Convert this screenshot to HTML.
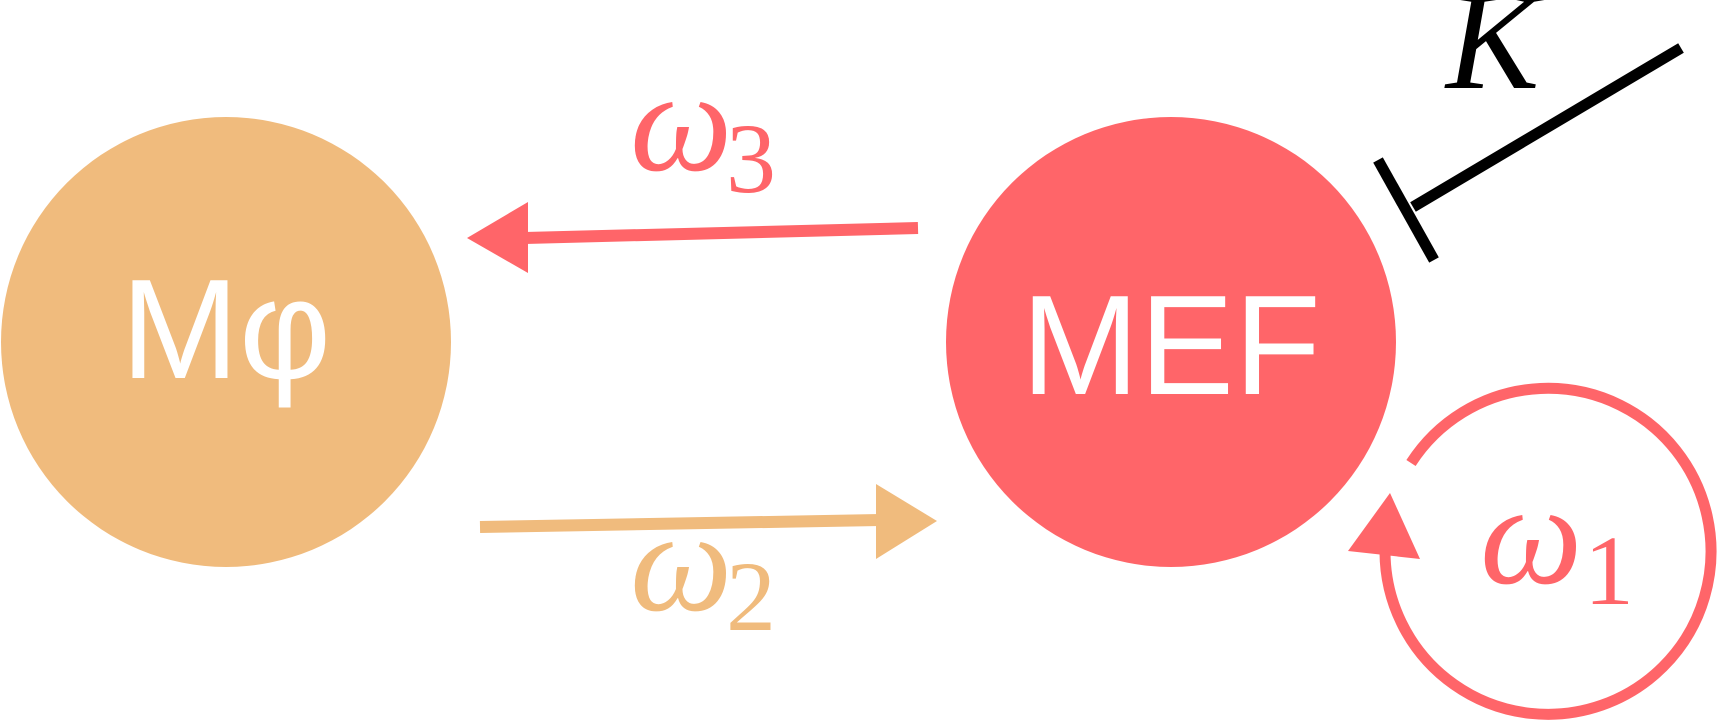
<!DOCTYPE html>
<html><head><meta charset="utf-8"><style>html,body{margin:0;padding:0;background:#fff}svg{display:block}</style></head>
<body>
<svg width="1717" height="721" viewBox="0 0 1717 721" xmlns="http://www.w3.org/2000/svg">
<circle cx="226" cy="342" r="225" fill="#F0BB7D"/>
<circle cx="1171" cy="342" r="225" fill="#FF6569"/>
<text x="226" y="378" font-family="Liberation Sans, DejaVu Sans, sans-serif" font-size="142" fill="#fff" text-anchor="middle">Mφ</text>
<text x="1171" y="394" font-family="Liberation Sans, sans-serif" font-size="142" fill="#fff" text-anchor="middle">MEF</text>
<!-- red arrow -->
<line x1="918" y1="228" x2="525" y2="238" stroke="#FF6569" stroke-width="12"/>
<polygon points="467,238 528,202 528,273" fill="#FF6569"/>
<!-- orange arrow -->
<line x1="480" y1="527" x2="880" y2="520" stroke="#F0BB7D" stroke-width="12"/>
<polygon points="937,521 876,484 876,559" fill="#F0BB7D"/>
<!-- labels -->
<text x="630" y="170" font-family="Liberation Serif, serif" font-style="italic" font-size="145" fill="#FF6569">ω</text>
<text x="726" y="192" font-family="Liberation Serif, serif" font-size="100" fill="#FF6569">3</text>
<text x="630" y="610" font-family="Liberation Serif, serif" font-style="italic" font-size="145" fill="#F0BB7D">ω</text>
<text x="726" y="630" font-family="Liberation Serif, serif" font-size="100" fill="#F0BB7D">2</text>
<text x="1480" y="583" font-family="Liberation Serif, serif" font-style="italic" font-size="145" fill="#FF6569">ω</text>
<text x="1584" y="604" font-family="Liberation Serif, serif" font-size="100" fill="#FF6569">1</text>
<text x="1446" y="88" font-family="Liberation Serif, serif" font-style="italic" font-size="140" fill="#000">K</text>
<!-- inhibition -->
<line x1="1681" y1="48" x2="1413" y2="207" stroke="#000" stroke-width="11"/>
<line x1="1378" y1="160" x2="1434" y2="260" stroke="#000" stroke-width="11"/>
<!-- self loop -->
<path d="M 1411 463 A 163 163 0 1 1 1385 552" fill="none" stroke="#FF6569" stroke-width="11"/>
<polygon points="1390,493 1348,551 1420,559" fill="#FF6569"/>
</svg>
</body></html>
